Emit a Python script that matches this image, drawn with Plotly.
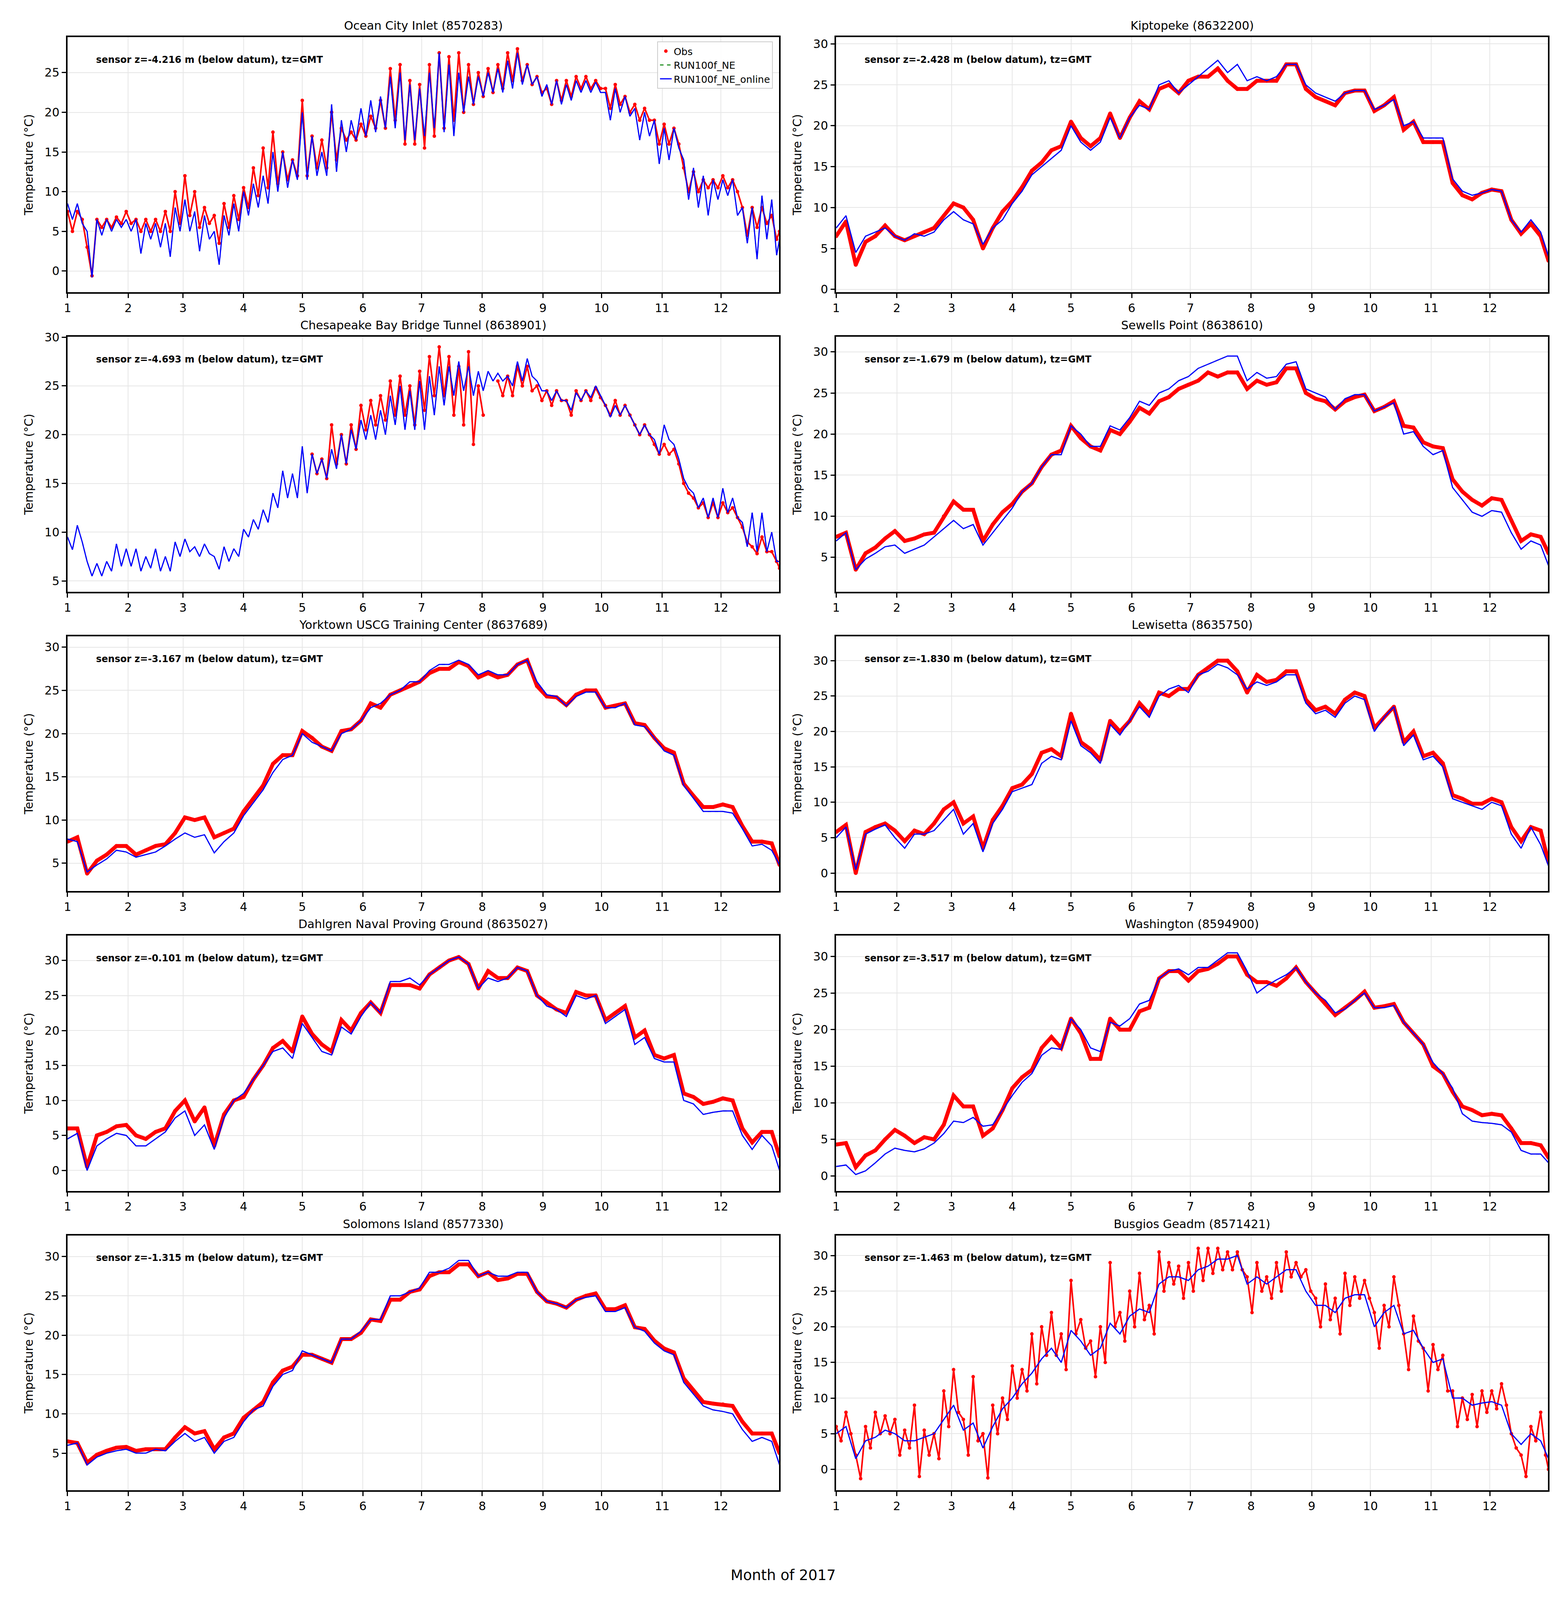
import pandas as pd
import plotly.graph_objects as go

# ---------------- data ----------------
START = "2017-01-01"
DAYS = list(range(0, 361, 5)) + [364]          # sample days after Jan 1
MONTH_TICKS = ["2017-%02d-01" % m for m in range(1, 13)]
MONTH_LABELS = [str(m) for m in range(1, 13)]

N = None

# Ocean City Inlet: low / high envelopes of obs and model
OC_OBS_LO = [5, 6.5, -0.6, 5.5, 5.5, 6, 6, 5, 5, 5,
             5, 6, 7, 5.5, 6, 3.5, 5.5, 6.5, 8, 9.5,
             10.5, 11, 11.5, 12, 12, 13, 13, 14, 16.5, 16.5,
             17, 18, 18, 19, 16, 16, 15.5, 17, 18, 19,
             20, 21, 22, 22.5, 23, 24, 24, 23.5, 22.5, 21,
             21.5, 22, 23, 23, 23, 20.5, 21, 20, 19, 19,
             16, 16, 16, 10, 10, 10.5, 10.5, 10.5, 10, 4.5,
             5.5, 6, 4, 2.5]
OC_OBS_HI = [7.5, 7.5, 3, 6.5, 6.5, 6.8, 7.5, 6.5, 6.5, 6.5,
             7.5, 10, 12, 10, 8, 7, 8.5, 9.5, 10.5, 13,
             15.5, 17.5, 15, 14, 21.5, 17, 16.5, 20, 18, 17.5,
             18.5, 19.5, 21.5, 25.5, 26, 24, 23.5, 26, 27.5, 27,
             27.5, 26, 25, 25.5, 26, 27.5, 28, 26, 24.5, 23,
             24, 24, 24.5, 24.5, 24, 23, 23.5, 22, 21, 20.5,
             19, 18.5, 18, 13, 12.5, 11.5, 11.5, 12, 11.5, 8,
             8, 8, 7, 5]
OC_MOD = [8, 8, 2, 5.8, 6, 6.2, 6.3, 4.5, 5.5, 5,
          5.5, 7, 7.5, 5, 6.5, 3, 6, 7, 8.5, 9.5,
          10.5, 12, 12.5, 12.5, 14, 14, 13.5, 15.5, 17, 17.5,
          18, 19, 19.5, 21, 20, 20, 19.5, 21, 21.5, 22,
          22, 22.5, 23, 23.5, 23.5, 24.5, 25, 24.5, 23.5, 22.5,
          22.5, 22.5, 23.2, 23.5, 23.2, 21.5, 22, 21, 19.5, 19.5,
          17.5, 17.5, 17.5, 12, 11, 10.5, 10.5, 10.5, 10.5, 6,
          6.5, 7, 6, 2]
OC_MOD_LO = [6.5, 6, -0.8, 4.5, 5, 5.5, 5, 2.2, 4, 3,
             1.8, 5, 5, 2.5, 4, 0.8, 4.5, 5, 7, 8,
             8.5, 10, 10.5, 11.5, 11.5, 12, 12, 12.5, 15, 16.5,
             17, 17.5, 18, 18, 16.5, 16.5, 17, 18, 17.5, 17,
             20, 21, 22, 22.5, 22.5, 23, 23.5, 23.5, 22, 21,
             21, 21.5, 22.5, 22.5, 22.5, 19, 20, 19.5, 16.5, 17,
             13.5, 14, 15.5, 9, 8, 7, 9, 9.5, 7, 3.5,
             1.5, 4, 2, -1.3]
OC_MOD_HI = [8.5, 8.5, 5, 6.5, 6.5, 6.5, 6.5, 6.5, 6, 6,
             6, 8, 9, 7.5, 7, 5, 7, 8.5, 10, 11,
             12, 15, 15, 14, 20, 17, 15, 21, 19, 19,
             20.5, 21.5, 22, 24.5, 25, 23.5, 23, 25, 27.5, 26,
             25, 24.5, 24.5, 25, 25.5, 26.5, 27.5, 26, 24.5, 23.5,
             24, 23.5, 24, 24, 23.8, 22.5, 23, 22, 20.5, 20,
             19, 18, 18, 14, 13, 12, 11.5, 11.5, 11.5, 8,
             8, 9.5, 9, 4]

KP_OBS = [6.5, 8.3, 3, 5.8, 6.5, 7.8, 6.5, 6, 6.5, 7,
          7.5, 9, 10.5, 10, 8.5, 5, 7.5, 9.5, 10.8, 12.5,
          14.5, 15.5, 17, 17.5, 20.5, 18.5, 17.5, 18.5, 21.5, 18.5,
          21, 23, 22, 24.5, 25, 24, 25.5, 26, 26, 27,
          25.5, 24.5, 24.5, 25.5, 25.5, 25.5, 27.5, 27.5, 24.5, 23.5,
          23, 22.5, 24, 24.3, 24.3, 21.8, 22.5, 23.5, 19.5, 20.5,
          18, 18, 18, 13, 11.5, 11, 11.8, 12.2, 12, 8.5,
          6.8, 8, 6.5, 3.5]
KP_MOD = [7.5, 9, 4.5, 6.5, 7, 7.5, 6.5, 6, 6.8, 6.5,
          7, 8.5, 9.5, 8.5, 8, 5.5, 7.5, 8.5, 10.5, 12,
          14, 15, 16, 17, 20, 18, 17, 18, 21, 18.5,
          21, 22.5, 22, 25, 25.5, 24, 25, 26, 27, 28,
          26.5, 27.5, 25.5, 26, 25.5, 26, 27.5, 27.5, 25, 24,
          23.5, 23, 24, 24.3, 24.3, 22, 22.5, 23.2, 20, 20.5,
          18.5, 18.5, 18.5, 13.5, 12, 11.5, 11.8, 12.2, 12, 8.5,
          7, 8.5, 7, 4]

# Chesapeake Bay Bridge Tunnel: envelopes (obs missing before May)
CB_OBS_LO = [N, N, N, N, N, N, N, N, N, N,
             N, N, N, N, N, N, N, N, N, N,
             N, N, N, N, N, 16, 15.5, 17, 17, 18.5,
             20.5, 21, 21.5, 22, 22, 21, 22.5, 24, 24, 22,
             21, 19, 22, N, 24, 24, 25, 24.5, 23.5, 23,
             23.5, 22, 23.5, 23.5, 23.8, 22, 22, 22, 20, 20,
             18, 18, 17, 14, 12.5, 11.5, 11.5, 12, 11.5, 9,
             7.8, 8, 7, 5.8]
CB_OBS_HI = [N, N, N, N, N, N, N, N, N, N,
             N, N, N, N, N, N, N, N, N, N,
             N, N, N, N, N, 18, 17.5, 21, 20, 21,
             23, 23.5, 24, 25.5, 26, 25, 26.5, 28, 29, 28,
             27, 28.5, 25, N, 25.5, 26, 27, 27, 25, 24.5,
             24.5, 23.5, 24.5, 24.5, 24.8, 23, 23.5, 23, 21, 21,
             19, 19, 18.5, 15, 13.5, 13, 13, 13, 12.5, 10.5,
             8.5, 9.5, 8, 6.3]
CB_MOD = [8.5, 9.5, 6, 6, 6.5, 7.5, 7.5, 6.5, 7, 7,
          7, 8.3, 8.7, 8, 8.2, 6.5, 7.5, 8, 9.5, 10.8,
          11.5, 13, 14.5, 14.5, 16.5, 17, 16.5, 17.5, 18.5, 19.5,
          20.5, 21, 21.5, 22.5, 23, 22.5, 23, 24, 25, 25,
          26, 25.5, 26, 26, 25.8, 25.5, 26.5, 27, 25, 24,
          24.2, 23, 23.8, 24.2, 24.5, 22.5, 22.5, 22.5, 20.5, 20.5,
          19, 20.5, 18, 15, 13.5, 12.5, 12.5, 13, 12.5, 10,
          9, 9.5, 8, 6]
CB_MOD_LO = [8.2, 9, 5.5, 5.5, 6, 6.5, 6.5, 6, 6.3, 6,
             6, 7.5, 8, 7.5, 7.8, 6.2, 7, 7.5, 9.5, 10.3,
             11, 12.5, 13.5, 13.5, 14, 16, 15.5, 16.5, 17, 18.5,
             19.5, 19.5, 20, 21, 20.5, 20.5, 20.5, 22, 23, 24,
             24.5, 24, 24.5, 25.5, 25.5, 25, 25.5, 26, 24.5, 23.5,
             23.5, 22.5, 23.5, 23.8, 24, 21.8, 22, 22, 20, 20,
             18, 19.5, 17.5, 14.5, 12.5, 11.5, 11.5, 12, 11.5, 8.5,
             8, 8, 7, 6]
CB_MOD_HI = [9.5, 10.7, 7, 6.8, 7, 8.8, 8.3, 8.3, 7.5, 8.3,
             7.5, 9, 9.3, 8.5, 8.8, 7.5, 8.5, 8.3, 10.3, 11.3,
             12.3, 14, 16.3, 16, 18.8, 18, 17.5, 18.5, 20, 20.5,
             21.5, 22, 22.5, 24, 25, 24.5, 25.5, 26, 27, 27,
             27.5, 27, 26.5, 26.5, 26.3, 26, 27.5, 27.8, 25.5, 24.5,
             24.5, 23.5, 24.3, 24.5, 25, 23, 23, 23, 21, 21,
             19.5, 21, 19, 15.5, 14, 13.5, 13.5, 14.5, 13.5, 11,
             12, 12, 10, 7]

SP_OBS = [7.5, 8, 3.5, 5.5, 6.2, 7.3, 8.2, 7, 7.3, 7.8,
          8, 10, 11.8, 10.8, 10.8, 7, 9, 10.5, 11.5, 13,
          14, 16, 17.5, 18, 21, 19.5, 18.5, 18, 20.5, 20,
          21.5, 23.2, 22.5, 24, 24.5, 25.5, 26, 26.5, 27.5, 27,
          27.5, 27.5, 25.5, 26.5, 26, 26.3, 28, 28, 25, 24.3,
          24, 23, 24, 24.5, 24.8, 22.8, 23.3, 24, 21, 20.8,
          19, 18.5, 18.3, 14.5, 13, 12, 11.3, 12.2, 12, 9.5,
          7, 7.8, 7.5, 5.5]
SP_MOD = [7, 8, 3.5, 4.8, 5.5, 6.3, 6.5, 5.5, 6, 6.5,
          7.5, 8.5, 9.5, 8.5, 9, 6.5, 8, 9.5, 11, 13,
          14, 16, 17.5, 17.5, 21, 20, 18.5, 18.5, 21, 20.5,
          22, 24, 23.5, 25, 25.5, 26.5, 27, 28, 28.5, 29,
          29.5, 29.5, 26.5, 27.5, 26.8, 27, 28.5, 28.8, 25.5, 25,
          24.5, 23, 24.3, 24.8, 24.8, 22.8, 23.3, 23.8, 20, 20.3,
          18.5, 17.5, 18, 13.5, 12, 10.5, 10, 10.7, 10.5, 8,
          6, 7, 6.5, 4]

YT_OBS = [7.5, 8, 3.8, 5.3, 6, 7, 7, 6, 6.5, 7,
          7.2, 8.5, 10.3, 10, 10.3, 8, 8.5, 9, 11, 12.5,
          14, 16.5, 17.5, 17.5, 20.3, 19.5, 18.5, 18, 20.3, 20.5,
          21.5, 23.5, 23, 24.5, 25, 25.5, 26, 27, 27.5, 27.5,
          28.3, 27.8, 26.5, 27, 26.5, 26.8, 28, 28.5, 25.5, 24.3,
          24.2, 23.3, 24.5, 25, 25, 23, 23.2, 23.5, 21.2, 21,
          19.5, 18.3, 17.8, 14.2, 12.8, 11.5, 11.5, 11.8, 11.5, 9.3,
          7.5, 7.5, 7.3, 4.8]
YT_MOD = [7.8, 7.5, 4, 4.8, 5.5, 6.5, 6.3, 5.7, 6, 6.3,
          7, 7.8, 8.5, 8, 8.3, 6.2, 7.5, 8.5, 10.5, 12,
          13.5, 15.5, 17, 17.5, 20, 19, 18.5, 18, 20, 20.5,
          21.5, 23, 23.5, 24.5, 25, 26, 26, 27.3, 28, 28,
          28.5, 28, 26.8, 27.3, 26.8, 26.8, 28, 28.5, 26, 24.5,
          24.3, 23.2, 24.3, 24.8, 24.8, 23, 23, 23.5, 21, 20.8,
          19.5, 18, 17.5, 14, 12.5, 11, 11, 11, 10.8, 9,
          7, 7.2, 6.5, 4.8]

LW_OBS = [5.8, 6.8, 0, 5.8, 6.5, 7, 6, 4.5, 6, 5.5,
          7, 9, 10, 7, 8, 3.5, 7.5, 9.5, 12, 12.5,
          14, 17, 17.5, 16.5, 22.5, 18.5, 17.5, 16, 21.5, 20,
          21.5, 24, 22.5, 25.5, 25, 26, 26, 28, 29, 30,
          30, 28.5, 25.5, 28, 27, 27.3, 28.5, 28.5, 24.5, 23,
          23.5, 22.5, 24.5, 25.5, 25, 20.5, 22, 23.5, 18.5, 20,
          16.5, 17, 15.5, 11, 10.5, 9.8, 9.8, 10.5, 10, 6.5,
          4.5, 6.5, 6, 1.5]
LW_MOD = [5, 6.5, 0.5, 5.5, 6.2, 6.8, 5, 3.5, 5.5, 5.5,
          6, 7.5, 9, 5.5, 7, 3, 7, 9, 11.5, 12,
          12.5, 15.5, 16.5, 16, 21.5, 18, 17, 15.5, 21, 19.5,
          21.5, 23.5, 22, 25, 26, 26.5, 25.5, 28, 28.5, 29.5,
          29, 28, 26, 27, 26.5, 27, 28, 28, 24, 22.5,
          23, 22, 24, 25, 24.5, 20, 22, 23.5, 18, 19.5,
          16, 16.5, 15, 10.5, 10, 9.5, 9, 10, 9.5, 5.5,
          3.5, 6.5, 4, 1]

DG_OBS = [6, 6, 0.5, 5, 5.5, 6.3, 6.5, 5, 4.5, 5.5,
          6, 8.5, 10, 7, 9, 3.5, 8, 10, 10.5, 13,
          15, 17.5, 18.5, 17, 22, 19.5, 18, 17, 21.5, 20,
          22.5, 24, 22.5, 26.5, 26.5, 26.5, 26, 28, 29, 30,
          30.5, 29.5, 26, 28.5, 27.5, 27.5, 29, 28.5, 25, 24,
          23, 22.5, 25.5, 25, 25, 21.5, 22.5, 23.5, 19, 20,
          16.5, 16, 16.5, 11, 10.5, 9.5, 9.8, 10.3, 10, 6,
          4, 5.5, 5.5, 2]
DG_MOD = [4.5, 5.3, 0, 3.5, 4.5, 5.3, 5, 3.5, 3.5, 4.5,
          5.5, 7.5, 8.5, 5, 6.5, 3, 7.5, 10, 11, 13,
          15, 17, 17.5, 16, 21, 19, 17, 16.5, 20.5, 19.5,
          22, 24, 22.5, 27, 27, 27.5, 26.5, 28, 29, 30,
          30.5, 29.5, 26, 27.5, 27, 27.5, 29, 28.5, 25, 23.5,
          23, 22, 25, 24.5, 25, 21, 22, 23, 18, 19,
          16, 15.5, 15.5, 10, 9.5, 8, 8.3, 8.5, 8.5, 5,
          3, 5, 3.5, 0]

WA_OBS = [4.3, 4.5, 1.2, 2.8, 3.5, 5, 6.3, 5.5, 4.5, 5.3,
          5, 7, 11, 9.5, 9.5, 5.5, 6.5, 9, 12, 13.5,
          14.5, 17.5, 19, 17.5, 21.5, 19.5, 16, 16, 21.5, 20,
          20, 22.5, 23, 27, 28, 28, 26.7, 28, 28.3, 29,
          30, 30, 27.5, 26.5, 26.5, 26, 27, 28.5, 26.5, 25,
          23.5, 22, 23, 24, 25.2, 23, 23.2, 23.5, 21, 19.5,
          18, 15, 14, 11.5, 9.5, 9, 8.3, 8.5, 8.3, 6.5,
          4.5, 4.5, 4.2, 2.5]
WA_MOD = [1.3, 1.5, 0.2, 0.7, 1.8, 3, 3.8, 3.5, 3.3, 3.7,
          4.5, 5.8, 7.5, 7.3, 8, 6.8, 7, 9, 11, 12.8,
          14, 16.5, 17.5, 17.3, 21.5, 20, 17.5, 17, 21, 20.5,
          21.5, 23.5, 24, 27, 28, 28.3, 27.5, 28.5, 28.5, 29.5,
          30.5, 30.5, 28, 25, 26, 26.8, 27.5, 28.5, 26.5, 25,
          24, 22.3, 22.8, 24, 25, 23, 23, 23.3, 21, 19.5,
          18, 15.5, 14, 12, 8.5, 7.5, 7.3, 7.2, 7, 6,
          3.5, 3, 3, 1.8]

SI_OBS = [6.5, 6.3, 3.8, 4.8, 5.3, 5.7, 5.8, 5.3, 5.5, 5.5,
          5.5, 7, 8.3, 7.5, 7.8, 5.5, 7, 7.5, 9.5, 10.5,
          11.5, 14, 15.5, 16, 17.5, 17.5, 17, 16.5, 19.5, 19.5,
          20.3, 22, 21.8, 24.5, 24.5, 25.5, 25.8, 27.5, 28, 28,
          29, 29, 27.5, 28, 27, 27.2, 27.8, 27.8, 25.5, 24.3,
          24, 23.5, 24.5, 25, 25.3, 23.3, 23.3, 23.8, 21, 20.8,
          19.3, 18.3, 17.8, 14.5, 13, 11.5, 11.3, 11.2, 11, 9,
          7.5, 7.5, 7.5, 5]
SI_MOD = [6, 6.3, 3.5, 4.5, 5, 5.3, 5.5, 5, 5, 5.5,
          5.3, 6.5, 7.5, 6.5, 7, 5, 6.5, 7, 9, 10.5,
          11, 13.5, 15, 15.5, 18, 17.5, 17, 16.5, 19.5, 19.5,
          20.5, 22, 22, 25, 25, 25.5, 26, 28, 28, 28.5,
          29.5, 29.5, 27.5, 28, 27.5, 27.5, 28, 28, 25.5, 24.3,
          24, 23.5, 24.5, 24.8, 25, 23, 23, 23.5, 21, 20.5,
          19, 18, 17.5, 14, 12.5, 11, 10.5, 10.3, 10, 8,
          6.5, 7, 6.5, 3.5]

# Busgios Geadm: obs envelope (widely scattered)
BG_OBS_LO = [4, 5, -1.3, 3, 5, 5, 2, 3, -1, 2,
             1.5, 6, 8, 2, 4, -1.2, 5, 7, 10, 11,
             12, 16, 16, 14, 19, 17, 13, 15, 20, 18,
             20, 21, 19, 25, 26, 24, 25, 26.5, 27.5, 28,
             28, 28, 22, 25, 24, 25, 27, 27, 25, 20,
             21, 19, 23, 24, 24, 17, 20, 23, 14, 18,
             11, 14, 11, 6, 7, 6, 8, 8.5, 9, 3,
             -1, 4, 2, -1.3]
BG_OBS_HI = [6, 8, 2, 6, 8, 7.5, 7, 5.5, 9, 5.5,
             5, 11, 14, 7, 13, 5, 9, 10, 14.5, 14,
             19, 20, 22, 19, 26.5, 21, 18, 20, 29, 22,
             25, 27.5, 23, 30.5, 29, 28.5, 29, 31, 31, 31,
             30.5, 30.5, 27, 29, 27, 29, 30.5, 29, 28, 24,
             26, 24, 27.5, 27, 26.5, 22, 23, 27, 19, 21.5,
             17, 17.5, 16, 11, 10, 10.5, 11, 11, 12, 5,
             2, 6, 8, 0]
BG_MOD = [5, 6, 1.5, 4, 4.5, 5.5, 5, 4, 4, 4.5,
          5, 7, 9, 5.5, 6.5, 3, 6, 8.5, 10, 12,
          13.5, 15.5, 17, 15, 19.5, 18, 16, 17, 20.5, 19,
          21.5, 22.5, 22, 26, 27, 27, 26.5, 28, 28.5, 29.5,
          29.5, 30, 26, 27, 26, 27, 28, 28, 25, 23,
          23, 22, 24, 24.5, 24.5, 20, 22, 23, 19, 19.5,
          17, 15, 15.5, 10, 10, 9, 9.3, 9.5, 9, 5,
          3.5, 5, 4, 1.5]

STATION_NAMES = ["Ocean City Inlet (8570283)", "Kiptopeke (8632200)",
                 "Chesapeake Bay Bridge Tunnel (8638901)", "Sewells Point (8638610)",
                 "Yorktown USCG Training Center (8637689)", "Lewisetta (8635750)",
                 "Dahlgren Naval Proving Ground (8635027)", "Washington (8594900)",
                 "Solomons Island (8577330)", "Busgios Geadm (8571421)"]
SENSOR_Z = ["-4.216", "-2.428", "-4.693", "-1.679", "-3.167",
            "-1.830", "-0.101", "-3.517", "-1.315", "-1.463"]
# obs: either a single series or a (low, high) envelope pair
OBS_SERIES = [(OC_OBS_LO, OC_OBS_HI), KP_OBS, (CB_OBS_LO, CB_OBS_HI), SP_OBS, YT_OBS,
              LW_OBS, DG_OBS, WA_OBS, SI_OBS, (BG_OBS_LO, BG_OBS_HI)]
MOD_SERIES = [OC_MOD, KP_MOD, CB_MOD, SP_MOD, YT_MOD, LW_MOD, DG_MOD, WA_MOD, SI_MOD, BG_MOD]
MOD_ENVELOPES = [(OC_MOD_LO, OC_MOD_HI), None, (CB_MOD_LO, CB_MOD_HI), None, None,
                 None, None, None, None, None]

# ---------------- layout (positions / styles) ----------------
FONT = "DejaVu Sans"
FIG_W, FIG_H = 3984, 4080          # fits the 4000x4096 viewport (page margins 8px)
X_DOM = [[0.039, 0.4975], [0.5343, 0.993]]
Y_DOM = [[0.8216, 0.9827], [0.6324, 0.7934], [0.4434, 0.6042], [0.254, 0.4152], [0.0648, 0.2258]]
Y_RANGES = [[-2.67, 29.47], [-0.35, 30.83], [3.89, 30.03], [0.82, 31.83], [1.79, 31.25],
            [-2.53, 33.43], [-2.92, 33.56], [-2.03, 32.85], [0.27, 32.67], [-2.95, 32.81]]
X_RANGE = ["2017-01-01", "2017-12-30 18:00"]
TICK_FS, TITLE_FS, NOTE_FS, LEG_FS, XLAB_FS = 30, 30, 24, 25, 37

dates = list(pd.Timestamp(START) + pd.to_timedelta(DAYS, unit="D"))
HALF_STEP = pd.Timedelta(days=2.5)


def zigzag(lo, hi):
    """Alternate high and low readings of each sample window."""
    xs, ys = [], []
    for t, a, b in zip(dates, lo, hi):
        xs += [t, t + HALF_STEP]
        ys += [b, a]
    return xs, ys


fig = go.Figure()
annotations = []
layout = {}

for i, name in enumerate(STATION_NAMES):
    n = i + 1
    row, col = divmod(i, 2)
    xk = "x" if n == 1 else f"x{n}"
    yk = "y" if n == 1 else f"y{n}"
    first = (n == 1)

    obs = OBS_SERIES[i]
    if isinstance(obs, tuple):
        ox, oy = zigzag(*obs)
        lw, ms = 4, 9
    else:
        ox, oy = dates, obs
        lw, ms = 10, 10
    fig.add_trace(go.Scatter(x=ox, y=oy, mode="lines", xaxis=xk, yaxis=yk,
                             line=dict(color="red", width=lw), connectgaps=False,
                             showlegend=False, hoverinfo="skip"))
    fig.add_trace(go.Scatter(x=ox, y=oy, mode="markers", xaxis=xk, yaxis=yk,
                             marker=dict(color="red", size=ms, line=dict(width=0)),
                             name="Obs", showlegend=first))
    env = MOD_ENVELOPES[i]
    if env is not None:
        mx, my = zigzag(*env)
    else:
        mx, my = dates, MOD_SERIES[i]
    fig.add_trace(go.Scatter(x=mx, y=my, mode="lines", xaxis=xk, yaxis=yk,
                             line=dict(color="green", width=2.5, dash="dash"),
                             name="RUN100f_NE", showlegend=first))
    fig.add_trace(go.Scatter(x=mx, y=my, mode="lines", xaxis=xk, yaxis=yk,
                             line=dict(color="blue", width=3),
                             name="RUN100f_NE_online", showlegend=first))

    common = dict(showline=True, linecolor="black", linewidth=3.5, mirror=True,
                  ticks="outside", ticklen=11, tickwidth=3, tickcolor="black",
                  showgrid=True, gridcolor="#e6e6e6", gridwidth=2, zeroline=False,
                  tickfont=dict(family=FONT, size=TICK_FS, color="black"))
    layout["xaxis" if n == 1 else f"xaxis{n}"] = dict(
        domain=X_DOM[col], anchor=yk, type="date", range=X_RANGE,
        tickmode="array", tickvals=MONTH_TICKS, ticktext=MONTH_LABELS, **common)
    layout["yaxis" if n == 1 else f"yaxis{n}"] = dict(
        domain=Y_DOM[row], anchor=xk, range=Y_RANGES[i], dtick=5, tick0=0,
        title=dict(text="Temperature (°C)", standoff=22,
                   font=dict(family=FONT, size=TICK_FS, color="black")), **common)

    xd = "x domain" if n == 1 else f"x{n} domain"
    yd = "y domain" if n == 1 else f"y{n} domain"
    annotations.append(dict(text=name, xref=xd, yref=yd, x=0.5, y=1.0, xanchor="center",
                            yanchor="bottom", yshift=10, showarrow=False,
                            font=dict(family=FONT, size=TITLE_FS, color="black")))
    annotations.append(dict(text=f"<b>sensor z={SENSOR_Z[i]} m (below datum), tz=GMT</b>",
                            xref=xd, yref=yd, x=0.039, y=0.912, xanchor="left",
                            yanchor="middle", showarrow=False,
                            font=dict(family=FONT, size=NOTE_FS, color="black")))

annotations.append(dict(text="Month of 2017", xref="paper", yref="paper", x=0.5, y=0.0112,
                        xanchor="center", yanchor="middle", showarrow=False,
                        font=dict(family=FONT, size=XLAB_FS, color="black")))

fig.update_layout(
    width=FIG_W, height=FIG_H, margin=dict(l=0, r=0, t=0, b=0),
    paper_bgcolor="white", plot_bgcolor="white",
    font=dict(family=FONT, color="black"),
    annotations=annotations,
    legend=dict(x=0.4935, y=0.98, xanchor="right", yanchor="top", traceorder="normal",
                bgcolor="rgba(255,255,255,0.9)", bordercolor="#cccccc", borderwidth=2,
                font=dict(family=FONT, size=LEG_FS, color="black")),
    **layout,
)

fig.write_html("out.html")
